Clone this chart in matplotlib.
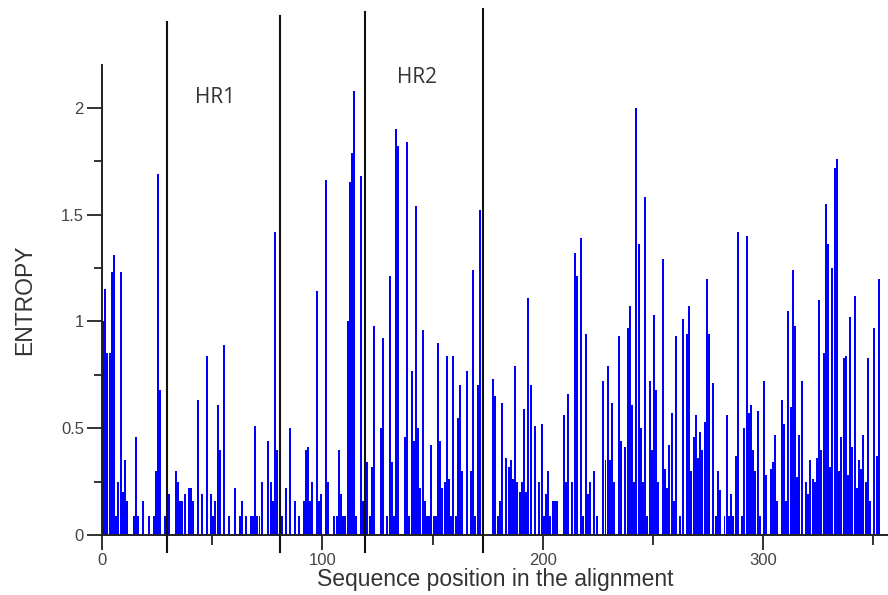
import matplotlib
matplotlib.use("Agg")
import matplotlib.pyplot as plt
import numpy as np

# Entropy per alignment position (positions 0..354)
entropy = [
    1.00, 1.15, 0.85, 0.85, 1.23, 1.31, 0.09, 0.25, 1.23, 0.20,
    0.35, 0.16, 0.00, 0.00, 0.09, 0.46, 0.09, 0.00, 0.16, 0.00,
    0.00, 0.09, 0.00, 0.09, 0.30, 1.69, 0.68, 0.00, 0.09, 0.39,
    0.19, 0.00, 0.00, 0.30, 0.25, 0.16, 0.16, 0.19, 0.00, 0.22,
    0.22, 0.16, 0.00, 0.63, 0.00, 0.19, 0.00, 0.84, 0.00, 0.19,
    0.09, 0.16, 0.61, 0.40, 0.00, 0.89, 0.00, 0.09, 0.00, 0.00,
    0.22, 0.00, 0.09, 0.16, 0.00, 0.09, 0.00, 0.09, 0.09, 0.51,
    0.09, 0.09, 0.25, 0.00, 0.00, 0.44, 0.25, 0.16, 1.42, 0.40,
    0.00, 0.09, 0.00, 0.22, 0.00, 0.50, 0.00, 0.16, 0.00, 0.09,
    0.00, 0.16, 0.40, 0.41, 0.16, 0.25, 0.00, 1.14, 0.16, 0.19,
    0.00, 1.66, 0.25, 0.00, 0.00, 0.09, 0.09, 0.40, 0.19, 0.09,
    0.09, 1.00, 1.65, 1.79, 2.08, 0.09, 0.00, 1.68, 0.16, 0.00,
    0.34, 0.09, 0.32, 0.98, 0.00, 0.00, 0.50, 0.92, 0.00, 0.09,
    1.21, 0.34, 0.09, 1.90, 1.82, 0.00, 0.00, 0.46, 1.84, 0.09,
    0.77, 0.44, 1.54, 0.50, 0.22, 0.96, 0.16, 0.09, 0.09, 0.42,
    0.09, 0.09, 0.90, 0.44, 0.22, 0.25, 0.84, 0.26, 0.09, 0.84,
    0.09, 0.55, 0.70, 0.30, 0.00, 0.77, 0.00, 0.30, 1.24, 0.09,
    0.70, 1.52, 0.00, 0.00, 0.00, 0.00, 0.00, 0.73, 0.65, 0.09,
    0.16, 0.62, 0.00, 0.36, 0.32, 0.35, 0.26, 0.79, 0.25, 0.20,
    0.25, 0.59, 0.20, 1.11, 0.70, 0.00, 0.51, 0.00, 0.25, 0.52,
    0.09, 0.19, 0.30, 0.09, 0.16, 0.16, 0.16, 0.00, 0.00, 0.56,
    0.25, 0.66, 0.00, 0.25, 1.32, 1.21, 0.00, 1.39, 0.09, 0.94,
    0.19, 0.25, 0.00, 0.30, 0.09, 0.00, 0.00, 0.72, 0.35, 0.79,
    0.35, 0.62, 0.25, 0.00, 0.93, 0.44, 0.00, 0.41, 0.97, 1.07,
    0.61, 0.25, 2.00, 1.36, 0.50, 0.25, 1.58, 0.09, 0.72, 0.40,
    1.03, 0.68, 0.25, 0.00, 1.29, 0.31, 0.22, 0.42, 0.57, 0.16,
    0.93, 0.00, 0.09, 1.01, 0.00, 0.94, 1.07, 0.30, 0.46, 0.56,
    0.36, 0.48, 0.40, 0.53, 1.20, 0.94, 0.00, 0.71, 0.09, 0.30,
    0.21, 0.00, 0.09, 0.56, 0.09, 0.19, 0.09, 0.37, 1.42, 0.00,
    0.09, 0.50, 1.40, 0.57, 0.61, 0.40, 0.30, 0.58, 0.09, 0.00,
    0.72, 0.28, 0.00, 0.31, 0.34, 0.47, 0.16, 0.00, 0.63, 0.52,
    0.16, 1.05, 0.60, 1.24, 0.98, 0.27, 0.47, 0.72, 0.00, 0.25,
    0.19, 0.35, 0.26, 0.25, 0.36, 1.10, 0.40, 0.85, 1.55, 1.36,
    0.32, 1.25, 1.72, 1.76, 0.30, 0.46, 0.83, 0.84, 0.28, 1.02,
    0.41, 1.12, 0.22, 0.35, 0.31, 0.47, 0.25, 0.83, 0.16, 0.00,
    0.97, 0.37, 1.20, 0.00, 0.00,
]
positions = list(range(len(entropy)))

# Region boundary lines and their top values
boundaries = [29.3, 80.7, 119.3, 173.0]
boundary_tops = [2.40, 2.43, 2.45, 2.46]
region_labels = ["HR1", "HR2"]
region_label_x = [51.5, 143.0]
region_label_y = [2.05, 2.14]

xticks_major = [0, 100, 200, 300]
xtick_labels = ["0", "100", "200", "300"]
xticks_minor = [50, 150, 250, 350]
yticks_major = [0, 0.5, 1, 1.5, 2]
ytick_labels = ["0", "0.5", "1", "1.5", "2"]
yticks_minor = [0.25, 0.75, 1.25, 1.75]

plt.rcParams['font.family'] = ['Liberation Sans', 'DejaVu Sans']

fig = plt.figure(figsize=(8.88, 5.95), dpi=100)
ax = fig.add_axes([0.1149, 0.1008, 0.886, 0.790])

ax.bar(positions, entropy, width=0.9, align='edge', color='#0000ff', linewidth=0)

for bx, top in zip(boundaries, boundary_tops):
    ax.plot([bx, bx], [-0.08, top], color='#111111', lw=1.5, clip_on=False, zorder=5)

for lab, lx, ly in zip(region_labels, region_label_x, region_label_y):
    ax.text(lx, ly, lab, fontsize=15, color='#333333', ha='center', va='center',
            family=['Open Sans', 'DejaVu Sans'])

ax.set_xlim(0, 357)
ax.set_ylim(0, 2.2)

ax.spines['top'].set_visible(False)
ax.spines['right'].set_visible(False)
for s in ('left', 'bottom'):
    ax.spines[s].set_linewidth(1.4)
    ax.spines[s].set_color('#222222')

ax.set_xticks(xticks_major)
ax.set_xticklabels(xtick_labels)
ax.set_xticks(xticks_minor, minor=True)
ax.set_yticks(yticks_major)
ax.set_yticklabels(ytick_labels)
ax.set_yticks(yticks_minor, minor=True)

ax.tick_params(axis='x', which='major', length=11, width=1.3, color='#222222',
               labelsize=12, labelcolor='#444444', pad=2)
ax.tick_params(axis='x', which='minor', length=7, width=1.3, color='#222222')
ax.tick_params(axis='y', which='major', length=11, width=1.3, color='#222222',
               labelsize=12, labelcolor='#444444', pad=2)
ax.tick_params(axis='y', which='minor', length=6, width=1.3, color='#222222')

ax.set_xlabel('Sequence position in the alignment', fontsize=16.5, color='#333333', labelpad=0)
ax.set_ylabel('ENTROPY', fontsize=16.5, color='#333333', labelpad=18)

fig.savefig('out.png', dpi=100)
